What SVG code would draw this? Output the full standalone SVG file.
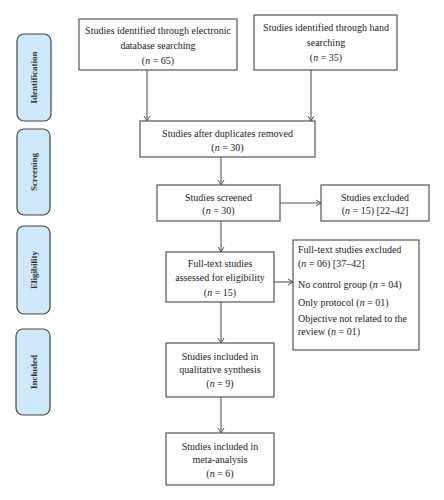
<svg xmlns="http://www.w3.org/2000/svg" width="444" height="500" viewBox="0 0 444 500">
<defs>
<style>
.box{fill:#fff;stroke:#555;stroke-width:1.2}
.side{fill:#cde9fb;stroke:#444;stroke-width:1.2}
.t{font-family:"Liberation Serif",serif;font-size:10px;fill:#222;text-anchor:middle}
.l{text-anchor:start}
.s{font-family:"Liberation Serif",serif;font-size:9px;font-weight:bold;fill:#333;text-anchor:middle}
.c{stroke:#555;stroke-width:1.1;fill:none;marker-end:url(#ah)}
.i{font-style:italic}
</style>
<marker id="ah" markerWidth="8" markerHeight="8" refX="6" refY="4" orient="auto" markerUnits="userSpaceOnUse">
<path d="M1,1 L6,4 L1,7" fill="none" stroke="#555" stroke-width="1"/>
</marker>
</defs>
<rect width="444" height="500" fill="#fff"/>
<g id="phase-identification"><rect class="side" x="17" y="34" width="34" height="87" rx="7"/><text class="s" transform="translate(37,77.5) rotate(-90)">Identification</text></g>
<g id="phase-screening"><rect class="side" x="17" y="129" width="33" height="86" rx="7"/><text class="s" transform="translate(36.5,172) rotate(-90)">Screening</text></g>
<g id="phase-eligibility"><rect class="side" x="17" y="226" width="33" height="88" rx="7"/><text class="s" transform="translate(36.5,270) rotate(-90)">Eligibility</text></g>
<g id="phase-included"><rect class="side" x="16" y="329" width="34" height="86" rx="7"/><text class="s" transform="translate(36.5,372) rotate(-90)">Included</text></g>
<g id="connectors">
<line class="c" x1="147" y1="70" x2="147" y2="121"/>
<line class="c" x1="311" y1="70" x2="311" y2="121"/>
<line class="c" x1="221" y1="157" x2="221" y2="185"/>
<line class="c" x1="280" y1="203" x2="321" y2="203"/>
<line class="c" x1="221" y1="221" x2="221" y2="252"/>
<line class="c" x1="274" y1="282" x2="293" y2="282"/>
<line class="c" x1="221" y1="302" x2="221" y2="343"/>
<line class="c" x1="221" y1="397" x2="221" y2="433"/>
</g>
<g id="n1"><rect class="box" x="79" y="19" width="158" height="51"/>
<text class="t" x="158" y="34">Studies identified through electronic</text>
<text class="t" x="158" y="49">database searching</text>
<text class="t" x="158" y="64">(<tspan class="i">n</tspan> = 65)</text></g>
<g id="n2"><rect class="box" x="254" y="15" width="143" height="55"/>
<text class="t" x="326" y="31">Studies identified through hand</text>
<text class="t" x="326" y="46">searching</text>
<text class="t" x="326" y="61">(<tspan class="i">n</tspan> = 35)</text></g>
<g id="n3"><rect class="box" x="140" y="121" width="175" height="36"/>
<text class="t" x="227.5" y="137">Studies after duplicates removed</text>
<text class="t" x="227.5" y="151">(<tspan class="i">n</tspan> = 30)</text></g>
<g id="n4"><rect class="box" x="157" y="185" width="123" height="36"/>
<text class="t" x="218.5" y="201">Studies screened</text>
<text class="t" x="218.5" y="214">(<tspan class="i">n</tspan> = 30)</text></g>
<g id="n5"><rect class="box" x="321" y="185" width="108" height="36"/>
<text class="t" x="375" y="201">Studies excluded</text>
<text class="t" x="375" y="214">(<tspan class="i">n</tspan> = 15) [22–42]</text></g>
<g id="n6"><rect class="box" x="166" y="252" width="108" height="50"/>
<text class="t" x="220" y="267">Full-text studies</text>
<text class="t" x="220" y="281">assessed for eligibility</text>
<text class="t" x="220" y="296">(<tspan class="i">n</tspan> = 15)</text></g>
<g id="n7"><rect class="box" x="293" y="240" width="126" height="110"/>
<text class="t l" x="298" y="253">Full-text studies excluded</text>
<text class="t l" x="298" y="267">(<tspan class="i">n</tspan> = 06) [37–42]</text>
<text class="t l" x="298" y="288">No control group (<tspan class="i">n</tspan> = 04)</text>
<text class="t l" x="298" y="306">Only protocol (<tspan class="i">n</tspan> = 01)</text>
<text class="t l" x="298" y="322">Objective not related to the</text>
<text class="t l" x="298" y="335">review (<tspan class="i">n</tspan> = 01)</text></g>
<g id="n8"><rect class="box" x="166" y="343" width="108" height="54"/>
<text class="t" x="220" y="360">Studies included in</text>
<text class="t" x="220" y="373">qualitative synthesis</text>
<text class="t" x="220" y="387">(<tspan class="i">n</tspan> = 9)</text></g>
<g id="n9"><rect class="box" x="166" y="433" width="108" height="52"/>
<text class="t" x="220" y="450">Studies included in</text>
<text class="t" x="220" y="463">meta-analysis</text>
<text class="t" x="220" y="477">(<tspan class="i">n</tspan> = 6)</text></g>
</svg>
